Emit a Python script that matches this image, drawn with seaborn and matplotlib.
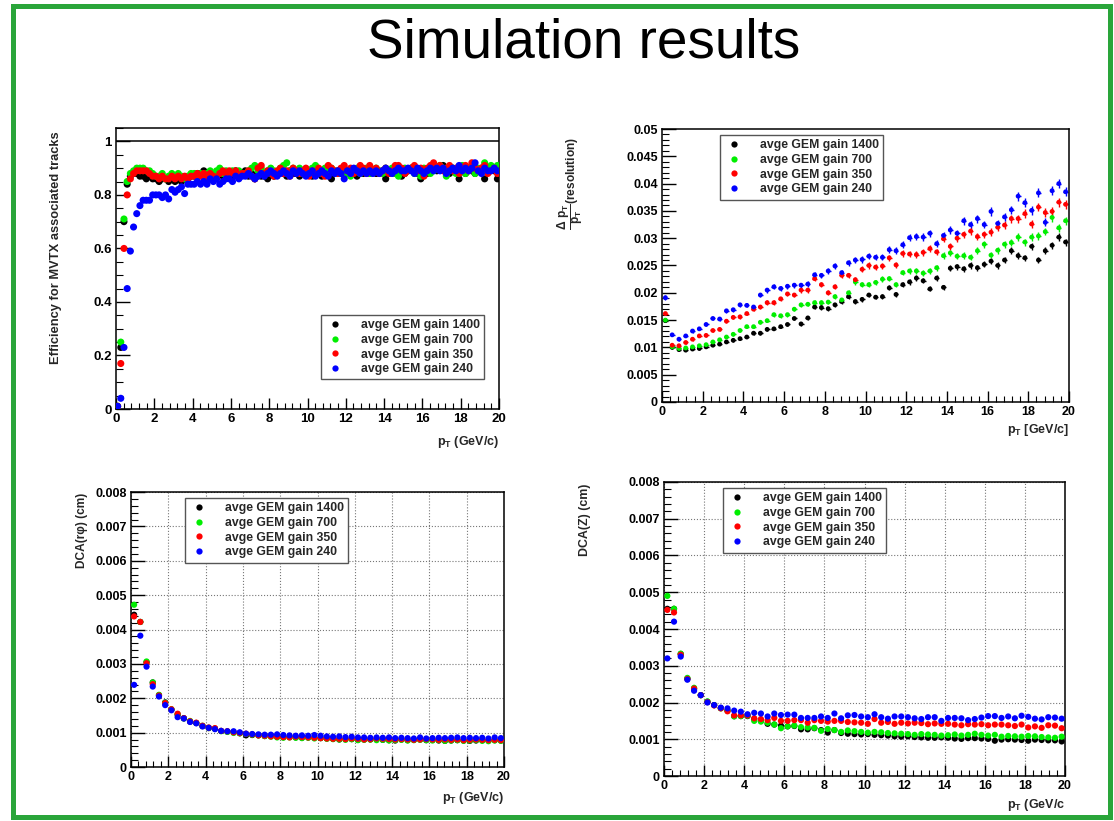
import numpy as np
import pandas as pd
import matplotlib
matplotlib.use("Agg")
import matplotlib.pyplot as plt
import seaborn as sns
from matplotlib.ticker import MultipleLocator, FuncFormatter
from matplotlib.patches import Rectangle

# ---------------- data ----------------
SERIES = ["avge GEM gain 1400", "avge GEM gain 700", "avge GEM gain 350", "avge GEM gain 240"]
COLORS = ["#000000", "#00ee00", "#ff0000", "#0000ff"]
PT_MIN, PT_MAX = 0.0, 20.0

# Efficiency for MVTX associated tracks (120 bins, 0-20 GeV/c)
EFF_1400 = [0.01, 0.23, 0.70, 0.84, 0.87, 0.88, 0.88, 0.87, 0.87, 0.86,
            0.87, 0.86, 0.86, 0.85, 0.86, 0.86, 0.85, 0.86, 0.85, 0.86,
            0.85, 0.86, 0.86, 0.87, 0.87, 0.88, 0.88, 0.89, 0.87, 0.86,
            0.87, 0.88, 0.88, 0.87, 0.88, 0.88, 0.87, 0.89, 0.88, 0.88,
            0.89, 0.87, 0.88, 0.86, 0.88, 0.87, 0.87, 0.86, 0.88, 0.87,
            0.88, 0.89, 0.88, 0.87, 0.89, 0.88, 0.88, 0.87, 0.88, 0.89,
            0.88, 0.87, 0.89, 0.88, 0.87, 0.89, 0.88, 0.86, 0.88, 0.89,
            0.88, 0.89, 0.88, 0.89, 0.88, 0.87, 0.89, 0.88, 0.89, 0.88,
            0.89, 0.88, 0.88, 0.89, 0.86, 0.88, 0.89, 0.88, 0.89, 0.87,
            0.88, 0.89, 0.90, 0.89, 0.88, 0.86, 0.89, 0.88, 0.89, 0.90,
            0.89, 0.90, 0.91, 0.89, 0.88, 0.90, 0.89, 0.86, 0.89, 0.88,
            0.90, 0.89, 0.88, 0.89, 0.90, 0.86, 0.89, 0.90, 0.89, 0.86]
EFF_700 = [0.01, 0.25, 0.71, 0.85, 0.88, 0.89, 0.90, 0.90, 0.90, 0.89,
           0.89, 0.88, 0.87, 0.87, 0.88, 0.86, 0.87, 0.88, 0.87, 0.88,
           0.87, 0.86, 0.87, 0.88, 0.88, 0.87, 0.88, 0.87, 0.88, 0.89,
           0.88, 0.89, 0.90, 0.88, 0.89, 0.88, 0.89, 0.88, 0.89, 0.88,
           0.88, 0.89, 0.90, 0.91, 0.89, 0.90, 0.88, 0.89, 0.90, 0.89,
           0.88, 0.90, 0.91, 0.92, 0.89, 0.90, 0.89, 0.90, 0.88, 0.89,
           0.89, 0.90, 0.91, 0.89, 0.88, 0.90, 0.89, 0.90, 0.89, 0.88,
           0.89, 0.90, 0.88, 0.87, 0.89, 0.90, 0.88, 0.89, 0.90, 0.88,
           0.89, 0.90, 0.89, 0.88, 0.90, 0.89, 0.90, 0.88, 0.87, 0.89,
           0.90, 0.89, 0.90, 0.88, 0.89, 0.87, 0.90, 0.89, 0.88, 0.89,
           0.90, 0.91, 0.90, 0.87, 0.89, 0.90, 0.88, 0.90, 0.91, 0.88,
           0.89, 0.91, 0.88, 0.90, 0.89, 0.92, 0.90, 0.91, 0.90, 0.91]
EFF_350 = [0.01, 0.17, 0.60, 0.80, 0.86, 0.88, 0.89, 0.89, 0.89, 0.89,
           0.88, 0.87, 0.87, 0.86, 0.87, 0.86, 0.86, 0.87, 0.86, 0.87,
           0.86, 0.87, 0.86, 0.87, 0.87, 0.88, 0.87, 0.88, 0.86, 0.88,
           0.87, 0.86, 0.88, 0.89, 0.88, 0.89, 0.88, 0.89, 0.87, 0.88,
           0.88, 0.89, 0.87, 0.86, 0.90, 0.91, 0.88, 0.89, 0.88, 0.87,
           0.89, 0.90, 0.88, 0.89, 0.87, 0.90, 0.89, 0.88, 0.89, 0.90,
           0.87, 0.89, 0.88, 0.90, 0.88, 0.87, 0.91, 0.90, 0.89, 0.88,
           0.90, 0.91, 0.89, 0.90, 0.88, 0.89, 0.91, 0.90, 0.88, 0.91,
           0.89, 0.90, 0.88, 0.89, 0.90, 0.88, 0.89, 0.91, 0.91, 0.90,
           0.88, 0.89, 0.90, 0.91, 0.89, 0.90, 0.87, 0.90, 0.91, 0.92,
           0.90, 0.91, 0.89, 0.90, 0.91, 0.89, 0.90, 0.88, 0.90, 0.91,
           0.89, 0.92, 0.90, 0.89, 0.90, 0.91, 0.88, 0.89, 0.90, 0.88]
EFF_240 = [0.01, 0.04, 0.23, 0.45, 0.59, 0.68, 0.73, 0.76, 0.78, 0.78,
           0.78, 0.80, 0.80, 0.80, 0.79, 0.80, 0.785, 0.82, 0.81, 0.82,
           0.83, 0.805, 0.84, 0.84, 0.84, 0.85, 0.84, 0.85, 0.84, 0.86,
           0.85, 0.86, 0.84, 0.85, 0.86, 0.86, 0.85, 0.87, 0.86, 0.87,
           0.87, 0.88, 0.87, 0.86, 0.87, 0.88, 0.87, 0.88, 0.89, 0.88,
           0.87, 0.88, 0.89, 0.88, 0.87, 0.89, 0.88, 0.89, 0.88, 0.87,
           0.88, 0.89, 0.87, 0.88, 0.89, 0.88, 0.87, 0.89, 0.88, 0.89,
           0.88, 0.86, 0.89, 0.88, 0.90, 0.89, 0.88, 0.89, 0.88, 0.89,
           0.88, 0.89, 0.88, 0.89, 0.90, 0.89, 0.88, 0.89, 0.90, 0.89,
           0.89, 0.90, 0.89, 0.88, 0.90, 0.89, 0.88, 0.89, 0.90, 0.89,
           0.90, 0.89, 0.90, 0.88, 0.89, 0.90, 0.89, 0.91, 0.89, 0.90,
           0.89, 0.90, 0.92, 0.89, 0.88, 0.90, 0.89, 0.89, 0.90, 0.89]

# Delta pT / pT resolution (60 bins)
RES_1400 = [0.0149, 0.0100, 0.0096, 0.0095, 0.0097, 0.0098, 0.0101, 0.0104, 0.0106, 0.0110,
            0.0113, 0.0116, 0.0119, 0.0126, 0.0126, 0.0133, 0.0134, 0.0138, 0.0142, 0.0153,
            0.0143, 0.0154, 0.0174, 0.0173, 0.0171, 0.0178, 0.0184, 0.0193, 0.0184, 0.0188,
            0.0196, 0.0192, 0.0193, 0.0209, 0.0197, 0.0215, 0.0220, 0.0227, 0.0222, 0.0207,
            0.0227, 0.0210, 0.0245, 0.0248, 0.0244, 0.0250, 0.0246, 0.0252, 0.0258, 0.0250,
            0.0260, 0.0277, 0.0268, 0.0264, 0.0285, 0.0260, 0.0277, 0.0287, 0.0302, 0.0293]
RES_700 = [0.0150, 0.0101, 0.0098, 0.0099, 0.0101, 0.0103, 0.0105, 0.0110, 0.0114, 0.0119,
           0.0124, 0.0131, 0.0138, 0.0138, 0.0146, 0.0149, 0.0160, 0.0158, 0.0160, 0.0170,
           0.0178, 0.0179, 0.0182, 0.0182, 0.0183, 0.0193, 0.0187, 0.0200, 0.0220, 0.0215,
           0.0215, 0.0219, 0.0225, 0.0226, 0.0215, 0.0237, 0.0240, 0.0240, 0.0236, 0.0240,
           0.0246, 0.0268, 0.0273, 0.0267, 0.0268, 0.0265, 0.0277, 0.0289, 0.0269, 0.0278,
           0.0289, 0.0292, 0.0302, 0.0293, 0.0302, 0.0304, 0.0312, 0.0338, 0.0319, 0.0332]
RES_350 = [0.0162, 0.0104, 0.0103, 0.0109, 0.0115, 0.0121, 0.0122, 0.0131, 0.0133, 0.0148,
           0.0155, 0.0156, 0.0162, 0.0170, 0.0174, 0.0182, 0.0182, 0.0189, 0.0198, 0.0196,
           0.0205, 0.0205, 0.0226, 0.0215, 0.0200, 0.0211, 0.0232, 0.0232, 0.0224, 0.0243,
           0.0250, 0.0247, 0.0249, 0.0264, 0.0251, 0.0272, 0.0271, 0.0270, 0.0274, 0.0281,
           0.0275, 0.0299, 0.0285, 0.0300, 0.0307, 0.0313, 0.0303, 0.0307, 0.0311, 0.0320,
           0.0324, 0.0336, 0.0336, 0.0345, 0.0326, 0.0357, 0.0347, 0.0349, 0.0366, 0.0362]
RES_240 = [0.0191, 0.0123, 0.0115, 0.0121, 0.0130, 0.0134, 0.0142, 0.0153, 0.0152, 0.0167,
           0.0169, 0.0178, 0.0177, 0.0174, 0.0196, 0.0205, 0.0211, 0.0208, 0.0212, 0.0214,
           0.0214, 0.0216, 0.0233, 0.0232, 0.0240, 0.0249, 0.0237, 0.0255, 0.0260, 0.0261,
           0.0267, 0.0265, 0.0265, 0.0279, 0.0277, 0.0288, 0.0301, 0.0303, 0.0302, 0.0309,
           0.0290, 0.0305, 0.0315, 0.0309, 0.0332, 0.0325, 0.0336, 0.0325, 0.0349, 0.0327,
           0.0339, 0.0352, 0.0377, 0.0365, 0.0351, 0.0383, 0.0329, 0.0387, 0.0400, 0.0385]
RES_REL_ERR = 0.022  # relative size of the vertical error bars
RES_PT_ERR = 0.12    # half-width of the horizontal error bars (GeV/c)

# DCA(r phi) in units of 1e-3 cm (60 bins)
DCARP_1400 = [4.43, 4.22, 3.05, 2.46, 2.09, 1.88, 1.67, 1.52, 1.42, 1.32,
              1.28, 1.19, 1.13, 1.12, 1.05, 1.03, 1.01, 0.98, 0.92, 0.93,
              0.92, 0.90, 0.90, 0.88, 0.87, 0.88, 0.86, 0.85, 0.86, 0.85,
              0.84, 0.83, 0.82, 0.80, 0.82, 0.81, 0.79, 0.80, 0.80, 0.81,
              0.79, 0.78, 0.77, 0.80, 0.78, 0.79, 0.80, 0.78, 0.79, 0.77,
              0.76, 0.77, 0.78, 0.77, 0.76, 0.77, 0.78, 0.77, 0.78, 0.77]
DCARP_700 = [4.72, 4.22, 3.07, 2.46, 2.10, 1.87, 1.68, 1.54, 1.41, 1.34,
             1.28, 1.20, 1.14, 1.11, 1.04, 1.02, 0.99, 0.98, 0.96, 0.94,
             0.92, 0.90, 0.88, 0.86, 0.85, 0.86, 0.85, 0.84, 0.85, 0.83,
             0.84, 0.82, 0.81, 0.80, 0.79, 0.81, 0.78, 0.79, 0.80, 0.78,
             0.79, 0.77, 0.78, 0.79, 0.77, 0.78, 0.79, 0.78, 0.77, 0.78,
             0.76, 0.77, 0.78, 0.76, 0.77, 0.78, 0.76, 0.75, 0.77, 0.76]
DCARP_350 = [4.38, 4.22, 3.02, 2.41, 2.08, 1.86, 1.68, 1.55, 1.42, 1.33,
             1.29, 1.20, 1.15, 1.13, 1.05, 1.04, 1.01, 0.99, 0.97, 0.95,
             0.92, 0.91, 0.89, 0.88, 0.87, 0.86, 0.88, 0.87, 0.86, 0.85,
             0.84, 0.83, 0.82, 0.82, 0.81, 0.83, 0.82, 0.80, 0.81, 0.83,
             0.82, 0.81, 0.80, 0.81, 0.80, 0.79, 0.80, 0.81, 0.80, 0.79,
             0.80, 0.79, 0.80, 0.78, 0.79, 0.80, 0.79, 0.78, 0.79, 0.78]
DCARP_240 = [2.39, 3.82, 2.92, 2.34, 2.05, 1.80, 1.65, 1.45, 1.41, 1.31,
             1.27, 1.18, 1.14, 1.10, 1.05, 1.04, 1.04, 1.01, 0.97, 0.96,
             0.95, 0.94, 0.94, 0.95, 0.93, 0.92, 0.91, 0.92, 0.91, 0.93,
             0.91, 0.89, 0.88, 0.89, 0.87, 0.88, 0.86, 0.86, 0.85, 0.86,
             0.85, 0.86, 0.84, 0.85, 0.84, 0.83, 0.86, 0.83, 0.84, 0.85,
             0.84, 0.85, 0.86, 0.84, 0.85, 0.84, 0.85, 0.83, 0.86, 0.84]

# DCA(Z) in units of 1e-3 cm (60 bins)
DCAZ_1400 = [4.55, 4.55, 3.32, 2.65, 2.37, 2.20, 2.02, 1.93, 1.85, 1.78,
             1.63, 1.63, 1.63, 1.55, 1.50, 1.42, 1.40, 1.37, 1.35, 1.36,
             1.27, 1.27, 1.30, 1.25, 1.18, 1.25, 1.17, 1.15, 1.14, 1.13,
             1.14, 1.12, 1.11, 1.10, 1.08, 1.07, 1.08, 1.06, 1.05, 1.04,
             1.04, 1.05, 1.04, 1.02, 1.01, 1.03, 1.03, 1.02, 1.01, 0.96,
             0.99, 1.00, 0.99, 0.98, 0.96, 0.99, 0.98, 0.97, 0.97, 0.94]
DCAZ_700 = [4.90, 4.55, 3.33, 2.67, 2.40, 2.20, 2.03, 1.93, 1.84, 1.78,
            1.62, 1.63, 1.64, 1.50, 1.48, 1.45, 1.40, 1.30, 1.35, 1.37,
            1.33, 1.32, 1.31, 1.23, 1.28, 1.25, 1.20, 1.24, 1.22, 1.20,
            1.18, 1.20, 1.19, 1.17, 1.16, 1.15, 1.14, 1.12, 1.14, 1.13,
            1.12, 1.10, 1.11, 1.13, 1.10, 1.12, 1.15, 1.12, 1.10, 1.12,
            1.07, 1.09, 1.08, 1.07, 1.09, 1.08, 1.06, 1.05, 1.04, 1.07]
DCAZ_350 = [4.52, 4.45, 3.30, 2.64, 2.38, 2.20, 2.01, 1.92, 1.84, 1.76,
            1.65, 1.65, 1.65, 1.57, 1.55, 1.52, 1.58, 1.50, 1.50, 1.52,
            1.52, 1.45, 1.52, 1.50, 1.48, 1.50, 1.50, 1.47, 1.46, 1.45,
            1.42, 1.55, 1.45, 1.47, 1.42, 1.45, 1.43, 1.45, 1.44, 1.41,
            1.43, 1.42, 1.42, 1.40, 1.38, 1.41, 1.40, 1.41, 1.38, 1.40,
            1.40, 1.38, 1.36, 1.40, 1.32, 1.35, 1.31, 1.38, 1.37, 1.30]
DCAZ_240 = [3.20, 4.20, 3.25, 2.62, 2.32, 2.20, 2.00, 1.93, 1.86, 1.84,
            1.78, 1.75, 1.68, 1.72, 1.70, 1.62, 1.70, 1.66, 1.67, 1.67,
            1.58, 1.58, 1.58, 1.62, 1.58, 1.70, 1.57, 1.65, 1.66, 1.62,
            1.60, 1.68, 1.60, 1.56, 1.62, 1.62, 1.60, 1.57, 1.55, 1.60,
            1.60, 1.50, 1.58, 1.58, 1.57, 1.52, 1.55, 1.59, 1.63, 1.63,
            1.58, 1.62, 1.57, 1.64, 1.61, 1.56, 1.54, 1.60, 1.59, 1.56]

TITLE = "Simulation results"


def make_df(series_lists, scale=1.0):
    rows = []
    for name, vals in zip(SERIES, series_lists):
        n = len(vals)
        width = (PT_MAX - PT_MIN) / n
        centers = PT_MIN + width * (np.arange(n) + 0.5)
        for c, v in zip(centers, vals):
            rows.append((name, c, v * scale))
    return pd.DataFrame(rows, columns=["series", "pt", "value"])


df_eff = make_df([EFF_1400, EFF_700, EFF_350, EFF_240])
df_res = make_df([RES_1400, RES_700, RES_350, RES_240])
df_rp = make_df([DCARP_1400, DCARP_700, DCARP_350, DCARP_240], 1e-3)
df_z = make_df([DCAZ_1400, DCAZ_700, DCAZ_350, DCAZ_240], 1e-3)

# ---------------- style ----------------
sns.set_theme(style="ticks")
plt.rcParams["font.family"] = ["Liberation Sans", "DejaVu Sans"]
plt.rcParams["font.weight"] = "bold"
plt.rcParams["axes.labelweight"] = "bold"
plt.rcParams["mathtext.fontset"] = "custom"
plt.rcParams["mathtext.rm"] = "Liberation Sans:bold"
plt.rcParams["mathtext.bf"] = "Liberation Sans:bold"
plt.rcParams["mathtext.it"] = "Liberation Sans:bold"

W, H = 1114, 821
fig = plt.figure(figsize=(W / 100, H / 100), dpi=100)
fig.patch.set_facecolor("white")


def axes_px(left, top, right, bottom):
    return fig.add_axes([left / W, 1 - bottom / H, (right - left) / W, (bottom - top) / H])


def style_axes(ax, ymax, ymajor, yminor, grid, labelsize=9):
    ax.set_xlim(PT_MIN, PT_MAX)
    ax.set_ylim(0, ymax)
    ax.xaxis.set_major_locator(MultipleLocator(2))
    ax.xaxis.set_minor_locator(MultipleLocator(0.4))
    ax.yaxis.set_major_locator(MultipleLocator(ymajor))
    ax.yaxis.set_minor_locator(MultipleLocator(yminor))
    fmt = FuncFormatter(lambda v, p: f"{v:g}")
    ax.yaxis.set_major_formatter(fmt)
    ax.xaxis.set_major_formatter(fmt)
    ax.tick_params(axis="both", which="both", direction="in", top=False, right=False,
                   colors="black")
    ax.tick_params(axis="y", which="major", length=10, width=1)
    ax.tick_params(axis="y", which="minor", length=5, width=0.8)
    ax.tick_params(axis="x", which="major", length=8, width=1)
    ax.tick_params(axis="x", which="minor", length=4, width=0.8)
    ax.tick_params(axis="both", which="major", labelsize=labelsize, pad=3)
    for lab in ax.get_xticklabels() + ax.get_yticklabels():
        lab.set_fontweight("bold")
    for s in ax.spines.values():
        s.set_visible(True)
        s.set_color("black")
        s.set_linewidth(1.1)
    ax.set_facecolor("white")
    if grid:
        ax.grid(True, which="major", linestyle=":", color="#777777", linewidth=0.8)
        ax.set_axisbelow(True)
    else:
        ax.grid(False)


def add_legend(ax, anchor):
    handles, labels = ax.get_legend_handles_labels()
    leg = ax.legend(handles, labels, loc="upper left", bbox_to_anchor=anchor,
                    frameon=True, fancybox=False, edgecolor="#555555",
                    framealpha=1.0, borderpad=0.35, handlelength=1.6,
                    handletextpad=1.3, labelspacing=0.22, borderaxespad=0,
                    prop={"weight": "bold", "size": 8.8})
    leg.get_frame().set_linewidth(1.0)
    for h in leg.legend_handles:
        try:
            h.set_markersize(4.5)
        except AttributeError:
            h.set_sizes([20])
    return leg


def scatter(ax, df, size):
    sns.scatterplot(data=df, x="pt", y="value", hue="series", hue_order=SERIES,
                    palette=COLORS, s=size, edgecolor="none", linewidth=0,
                    ax=ax, legend=True, zorder=3)


def set_labels(ax, xlabel, xlab_y, ylabel, ylab_xy, ysize):
    ax.set_xlabel(xlabel, fontsize=9, fontweight="bold", loc="right")
    ax.xaxis.set_label_coords(1.0, xlab_y)
    ax.xaxis.label.set_horizontalalignment("right")
    ax.set_ylabel(ylabel, fontsize=ysize, fontweight="bold")
    ax.yaxis.set_label_coords(*ylab_xy)


PT_GEV_PAREN = r"$\mathbf{p_T}$ (GeV/c)"

# ---- Panel 1: efficiency ----
ax1 = axes_px(116, 128, 499, 409)
scatter(ax1, df_eff, 26)
ax1.axhline(1.0, color="black", linewidth=1.1, zorder=2)
style_axes(ax1, 1.05, 0.2, 0.05, grid=False, labelsize=9.5)
set_labels(ax1, PT_GEV_PAREN, -0.09, "Efficiency for MVTX associated tracks",
           (-0.141, 0.575), 9.3)
add_legend(ax1, (0.535, 0.335))

# ---- Panel 2: resolution ----
ax2 = axes_px(662, 129, 1069, 402)
for name, color in zip(SERIES, COLORS):
    sub = df_res[df_res["series"] == name]
    ax2.errorbar(sub["pt"], sub["value"], yerr=sub["value"] * RES_REL_ERR,
                 xerr=RES_PT_ERR, fmt="none", ecolor=color, elinewidth=1.0,
                 capsize=0, zorder=2)
scatter(ax2, df_res, 12)
style_axes(ax2, 0.05, 0.005, 0.001, grid=False)
set_labels(ax2, r"$\mathbf{p_T}$ [GeV/c]", -0.075,
           r"$\dfrac{\Delta\ \mathbf{p_T}}{\mathbf{p_T}}$(resolution)",
           (-0.19, 0.80), 8.6)
add_legend(ax2, (0.1425, 0.978))

# ---- Panel 3: DCA(r phi) ----
ax3 = axes_px(131, 492, 504, 767)
scatter(ax3, df_rp, 20)
style_axes(ax3, 0.008, 0.001, 0.0002, grid=True)
set_labels(ax3, PT_GEV_PAREN, -0.085, "DCA(rφ) (cm)", (-0.115, 0.86), 8.6)
add_legend(ax3, (0.145, 0.978))

# ---- Panel 4: DCA(Z) ----
ax4 = axes_px(664, 482, 1065, 776)
scatter(ax4, df_z, 20)
style_axes(ax4, 0.008, 0.001, 0.0002, grid=True)
set_labels(ax4, r"$\mathbf{p_T}$ (GeV/c", -0.07, "DCA(Z) (cm)", (-0.182, 0.87), 8.9)
add_legend(ax4, (0.147, 0.98))

# ---------------- slide decoration ----------------
fig.text(584 / W, 1 - 43 / H, TITLE, ha="center", va="center", fontsize=39.5,
         fontweight="normal", family=["Liberation Sans", "DejaVu Sans"],
         color="black")
frame = Rectangle((13.2 / W, 1 - 817 / H), (1110 - 13.2) / W, (817 - 5.8) / H,
                  transform=fig.transFigure, fill=False, edgecolor="#2aa53a",
                  linewidth=3.6, zorder=10)
fig.patches.append(frame)

fig.savefig("out.png", dpi=100, facecolor="white")
